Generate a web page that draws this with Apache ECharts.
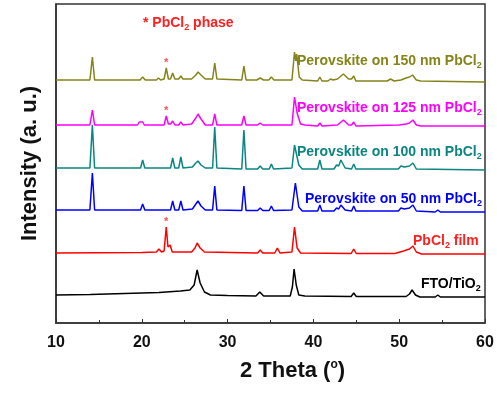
<!DOCTYPE html>
<html>
<head>
<meta charset="utf-8">
<script src="https://cdn.jsdelivr.net/npm/echarts@6/dist/echarts.min.js"></script>
<style>
  html, body { margin: 0; padding: 0; background: #fff; }
  #chart { width: 497px; height: 394px; }
</style>
</head>
<body>
<div id="chart"></div>
<script>
// x ticks (2 Theta)
const xTicks = [10, 20, 30, 40, 50, 60];

// patterns, already stacked (arbitrary intensity units)
const fto = [
  [10, 28], [14, 28.5], [18, 29.5], [22, 30.5], [24.5, 32], [25.6, 33], [26.1, 38], [26.45, 53], [26.8, 40], [27.3, 31], [28, 28],
  [30, 27.5], [33.3, 27], [33.75, 31], [34.2, 27], [37.3, 27], [37.55, 36], [37.75, 54], [38.0, 38], [38.3, 28], [39, 27],
  [44.4, 26.5], [44.7, 30], [45.0, 26.5], [50.8, 26.5], [51.2, 29], [51.5, 33], [51.9, 28], [52.4, 26], [54.2, 26], [54.5, 28], [54.8, 26], [60, 26]
];
const pbcl2Film = [
  [10, 70], [20, 70.5], [21.7, 71], [22.0, 74], [22.3, 71], [22.6, 72], [22.85, 96], [23.05, 76], [23.3, 78], [23.55, 71], [25.8, 71],
  [26.2, 75], [26.45, 80], [26.8, 75], [27.3, 71], [33.5, 70], [33.8, 73], [34.1, 70], [35.5, 70], [35.8, 75], [36.1, 70],
  [37.5, 71], [37.8, 96], [38.1, 75], [38.5, 70], [44.4, 69.5], [44.7, 74], [45.0, 69.5], [49.5, 69.5], [50.5, 72], [51.2, 74],
  [51.6, 77], [52.0, 71], [52.6, 69], [60, 69]
];
const pvk50 = [
  [10, 113], [13.95, 113], [14.24, 150], [14.5, 113], [19.85, 113], [20.1, 119], [20.35, 113], [23.35, 113], [23.6, 122], [23.85, 113],
  [24.3, 113], [24.55, 122], [24.8, 113], [25.9, 114], [26.3, 119], [26.55, 122], [26.9, 117], [27.4, 113], [28.25, 113], [28.5, 137], [28.75, 113],
  [31.65, 112.5], [31.9, 137], [32.15, 112.5], [33.5, 112.5], [33.8, 115], [34.1, 112.5], [34.85, 112.5], [35.1, 117], [35.35, 112.5],
  [37.5, 113], [37.9, 140], [38.3, 116], [38.7, 112], [40.5, 112], [40.75, 118], [41.0, 112], [42.4, 112], [42.7, 115], [42.95, 114],
  [43.2, 118], [43.7, 113], [44.45, 112], [44.7, 117], [44.95, 112], [49.9, 112], [50.2, 115], [50.6, 114], [51.2, 115], [51.6, 118],
  [52.0, 112], [54.2, 111], [54.5, 113], [54.8, 111], [60, 111]
];
const pvk100 = [
  [10, 155], [13.95, 155], [14.24, 198], [14.5, 155], [19.85, 155], [20.1, 163], [20.35, 155], [23.35, 155], [23.6, 165], [23.85, 155],
  [24.3, 155], [24.55, 166], [24.8, 155], [25.9, 156], [26.3, 160], [26.55, 162], [26.9, 158], [27.4, 155], [28.25, 155], [28.5, 196], [28.75, 155],
  [31.65, 154], [31.9, 193], [32.15, 154], [33.5, 154], [33.8, 157], [34.1, 154], [34.85, 154], [35.1, 159], [35.35, 154],
  [37.5, 155], [37.8, 178], [38.0, 170], [38.3, 158], [38.7, 154], [40.5, 154], [40.75, 163], [41.0, 154], [42.4, 154], [42.7, 158], [42.95, 157],
  [43.2, 163], [43.7, 155], [44.45, 154], [44.7, 159], [44.95, 154], [49.9, 154], [50.2, 157], [50.6, 156], [51.2, 157], [51.6, 160],
  [52.0, 154], [60, 153]
];
const pvk125 = [
  [10, 198], [13.95, 198], [14.24, 213], [14.5, 198], [19.5, 198], [19.7, 201], [19.9, 200], [20.1, 201], [20.3, 198], [22.6, 198],
  [22.85, 207], [23.1, 199], [23.35, 199], [23.6, 202], [23.85, 198], [24.3, 198], [24.55, 201], [24.8, 198], [25.8, 199], [26.3, 205],
  [26.55, 209], [26.9, 204], [27.4, 198], [28.25, 198], [28.5, 209], [28.75, 198], [31.65, 198], [31.9, 207], [32.15, 198],
  [33.5, 198], [33.8, 200], [34.1, 198], [37.5, 198], [37.8, 226], [38.1, 210], [38.5, 199], [39, 198], [40.5, 197], [40.75, 200], [41.0, 197],
  [42.8, 198], [43.5, 203], [44.1, 198], [44.45, 198], [44.7, 201], [44.95, 197], [50.0, 198], [50.8, 199], [51.2, 200], [51.6, 203],
  [52.0, 198], [52.5, 197], [60, 197]
];
const pvk150 = [
  [10, 243], [13.95, 243], [14.24, 266], [14.5, 243], [19.8, 243], [20.1, 246], [20.4, 243], [21.7, 243], [21.95, 245], [22.2, 243],
  [22.6, 244], [22.85, 255], [23.1, 244], [23.35, 244], [23.6, 250], [23.85, 244], [24.3, 244], [24.55, 247], [24.8, 244],
  [25.8, 244], [26.3, 248], [26.55, 251], [26.9, 248], [27.4, 244], [28.25, 244], [28.5, 260], [28.75, 244],
  [31.65, 243], [31.9, 257], [32.15, 243], [33.4, 243], [33.8, 245], [34.2, 243], [34.8, 243], [35.1, 246], [35.4, 243],
  [37.5, 243], [37.8, 271], [37.95, 262], [38.05, 269], [38.35, 246], [38.7, 243], [40.5, 242], [40.75, 246], [41.0, 242],
  [41.7, 242], [42.0, 244], [42.3, 243], [42.8, 244], [43.5, 249], [44.1, 244], [44.45, 244], [44.7, 247], [44.95, 242],
  [48.6, 242], [49.0, 244], [49.4, 242], [50.2, 243], [50.8, 245], [51.2, 246], [51.55, 248], [52.0, 243], [52.5, 242], [60, 241]
];

// PbCl2 reflections marked with *
const starPoints = [[22.85, 255], [22.85, 207], [22.85, 96]];

const colors = ["#000000", "#ff0000", "#0000ff", "#0a8580", "#ff00ff", "#84841a"];
const seriesData = [fto, pbcl2Film, pvk50, pvk100, pvk125, pvk150];

const chart = echarts.init(document.getElementById("chart"), null, { renderer: "canvas" });

const sub = { fontSize: 9, fontWeight: "bold", padding: [9, 0, 0, 0] };
function tag(x, y, text, color) {
  return {
    type: "text",
    left: x,
    top: y,
    style: {
      text: text,
      fill: color,
      font: "bold 14px Arial, 'Liberation Sans', sans-serif",
      rich: { s: Object.assign({ fill: color }, sub) },
    },
  };
}

const series = seriesData.map((d, i) => ({
  type: "line",
  data: d,
  showSymbol: false,
  lineStyle: { color: colors[i], width: 1.5 },
  animation: false,
}));
// asterisks over the PbCl2 peak
series.push({
  type: "scatter",
  data: starPoints,
  symbolSize: 0,
  label: {
    show: true,
    formatter: "*",
    position: "top",
    distance: 0,
    color: "#ff2020",
    fontSize: 11,
    fontWeight: "bold",
  },
  silent: true,
  animation: false,
});

chart.setOption({
  backgroundColor: "#fff",
  grid: {
    left: 56,
    right: 12,
    top: 4,
    bottom: 71,
    show: true,
    borderColor: "#333",
    borderWidth: 1.5,
  },
  xAxis: {
    type: "value",
    min: xTicks[0],
    max: xTicks[xTicks.length - 1],
    interval: 10,
    name: "2 Theta ({sup|o})",
    nameLocation: "middle",
    nameGap: 36,
    nameTextStyle: {
      fontSize: 22,
      fontWeight: "bold",
      color: "#111",
      fontFamily: "Arial",
      padding: [0, 0, 0, 44],
      rich: { sup: { fontSize: 12, fontWeight: "bold", padding: [0, 0, 11, 0] } },
    },
    axisLine: { lineStyle: { color: "#333", width: 1.5 } },
    axisTick: { inside: true, length: 4, lineStyle: { color: "#333" } },
    minorTick: { show: true, splitNumber: 2, length: 3, lineStyle: { color: "#333" } },
    splitLine: { show: false },
    axisLabel: { fontSize: 16, fontWeight: "bold", color: "#111", margin: 12, fontFamily: "Arial" },
  },
  yAxis: {
    type: "value",
    min: 0,
    max: 319,
    name: "Intensity (a. u.)",
    nameLocation: "middle",
    nameGap: 15,
    nameTextStyle: { fontSize: 22, fontWeight: "bold", color: "#111", fontFamily: "Arial" },
    axisLine: { show: true, lineStyle: { color: "#333", width: 1.5 } },
    axisTick: { show: false },
    axisLabel: { show: false },
    splitLine: { show: false },
  },
  series: series,
  graphic: [
    tag(143, 16, "* PbCl{s|2} phase", "#ff2020"),
    tag(297, 54, "Perovskite on 150 nm PbCl{s|2}", "#84841a"),
    tag(297, 101, "Perovskite on 125 nm PbCl{s|2}", "#ff00ff"),
    tag(297, 145, "Perovskite on 100 nm PbCl{s|2}", "#0a8580"),
    tag(305, 192, "Perovskite on 50 nm PbCl{s|2}", "#0000ff"),
    tag(413, 234, "PbCl{s|2} film", "#ff2020"),
    tag(421, 277, "FTO/TiO{s|2}", "#000000"),
  ],
});
</script>
</body>
</html>
